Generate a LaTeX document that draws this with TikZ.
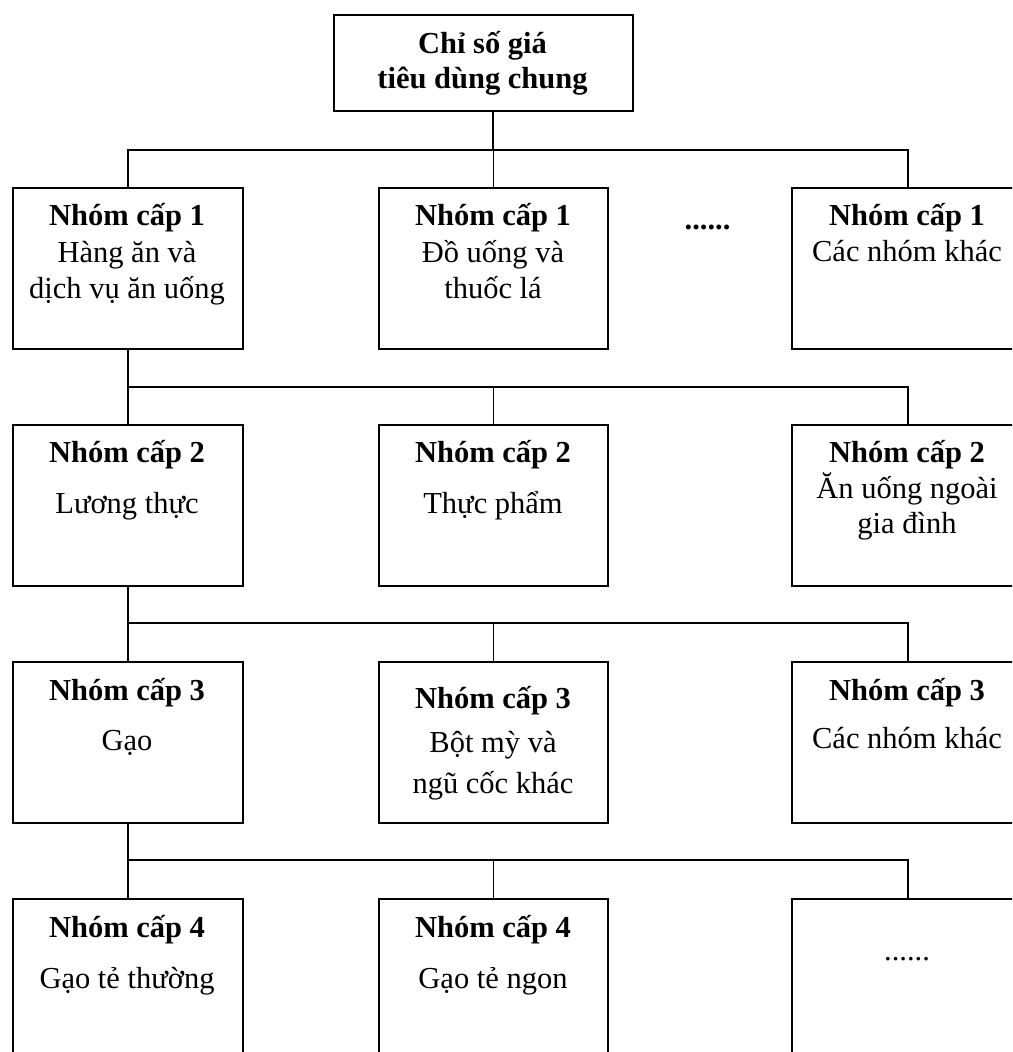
\documentclass[tikz,border=0pt]{standalone}
\usepackage{fontspec}
\setmainfont{Liberation Serif}
\begin{document}
\begin{tikzpicture}[x=1pt,y=-1pt,
  box/.style={draw,line width=1.9pt,inner sep=0pt,anchor=north west,minimum width=230pt,minimum height=161pt},
  conn/.style={line width=1.5pt},
  txt/.style={anchor=base,inner sep=0pt,font=\fontsize{30.5}{36}\selectfont},
  btxt/.style={anchor=base,inner sep=0pt,font=\fontsize{30.5}{36}\selectfont\bfseries}]
\useasboundingbox (0,0) rectangle (1012,1052);
\clip (0,0) rectangle (1012,1052);

% top box
\node[box,minimum width=299pt,minimum height=96pt] (top) at (333,14) {};
\node[btxt] (topt1) at (482.5,53) {Chỉ số giá};
\node[btxt] (topt2) at (482.5,88) {tiêu dùng chung};

% row 1
\node[box] (a1) at (12,187) {};
\node[box,minimum width=229pt] (b1) at (378,187) {};
\node[box,minimum width=232pt] (c1) at (791,187) {};
\node[btxt] (a1t1) at (127,225) {Nhóm cấp 1};
\node[txt] (a1t2) at (127,262) {Hàng ăn và};
\node[txt] (a1t3) at (127,298) {dịch vụ ăn uống};
\node[btxt] (b1t1) at (493,225) {Nhóm cấp 1};
\node[txt] (b1t2) at (493,262) {Đồ uống và};
\node[txt] (b1t3) at (493,298) {thuốc lá};
\node[btxt] (dots1) at (707.5,229) {......};
\node[btxt] (c1t1) at (907,225) {Nhóm cấp 1};
\node[txt] (c1t2) at (907,261) {Các nhóm khác};

% row 2
\node[box] (a2) at (12,424) {};
\node[box,minimum width=229pt] (b2) at (378,424) {};
\node[box,minimum width=232pt] (c2) at (791,424) {};
\node[btxt] (a2t1) at (127,462) {Nhóm cấp 2};
\node[txt] (a2t2) at (127,513) {Lương thực};
\node[btxt] (b2t1) at (493,462) {Nhóm cấp 2};
\node[txt] (b2t2) at (493,513) {Thực phẩm};
\node[btxt] (c2t1) at (907,462) {Nhóm cấp 2};
\node[txt] (c2t2) at (907,498) {Ăn uống ngoài};
\node[txt] (c2t3) at (907,533) {gia đình};

% row 3
\node[box] (a3) at (12,661) {};
\node[box,minimum width=229pt] (b3) at (378,661) {};
\node[box,minimum width=232pt] (c3) at (791,661) {};
\node[btxt] (a3t1) at (127,700) {Nhóm cấp 3};
\node[txt] (a3t2) at (127,750) {Gạo};
\node[btxt] (b3t1) at (493,708) {Nhóm cấp 3};
\node[txt] (b3t2) at (493,752) {Bột mỳ và};
\node[txt] (b3t3) at (493,793) {ngũ cốc khác};
\node[btxt] (c3t1) at (907,700) {Nhóm cấp 3};
\node[txt] (c3t2) at (907,748) {Các nhóm khác};

% row 4
\node[box] (a4) at (12,898) {};
\node[box,minimum width=229pt] (b4) at (378,898) {};
\node[box,minimum width=232pt] (c4) at (791,898) {};
\node[btxt] (a4t1) at (127,937) {Nhóm cấp 4};
\node[txt] (a4t2) at (127,988) {Gạo tẻ thường};
\node[btxt] (b4t1) at (493,937) {Nhóm cấp 4};
\node[txt] (b4t2) at (493,988) {Gạo tẻ ngon};
\node[txt] (dots4) at (907,960) {......};

% connectors
\coordinate (j0) at (493,150);
\coordinate (j1) at (127,387);
\coordinate (j2) at (127,623);
\coordinate (j3) at (127,860);
\draw[conn] (top.south -| j0) -- (j0);
\draw[conn] (a1.north) -- (a1.north |- j0) -- (c1.north |- j0) -- (c1.north);
\draw[conn] (b1.north) -- (b1.north |- j0);

\draw[conn] (a1.south) -- (a1.south |- j1) -- (c2.north |- j1) -- (c2.north);
\draw[conn] (a2.north) -- (a2.north |- j1);
\draw[conn] (b2.north) -- (b2.north |- j1);

\draw[conn] (a2.south) -- (a2.south |- j2) -- (c3.north |- j2) -- (c3.north);
\draw[conn] (a3.north) -- (a3.north |- j2);
\draw[conn] (b3.north) -- (b3.north |- j2);

\draw[conn] (a3.south) -- (a3.south |- j3) -- (c4.north |- j3) -- (c4.north);
\draw[conn] (a4.north) -- (a4.north |- j3);
\draw[conn] (b4.north) -- (b4.north |- j3);
\end{tikzpicture}
\end{document}
